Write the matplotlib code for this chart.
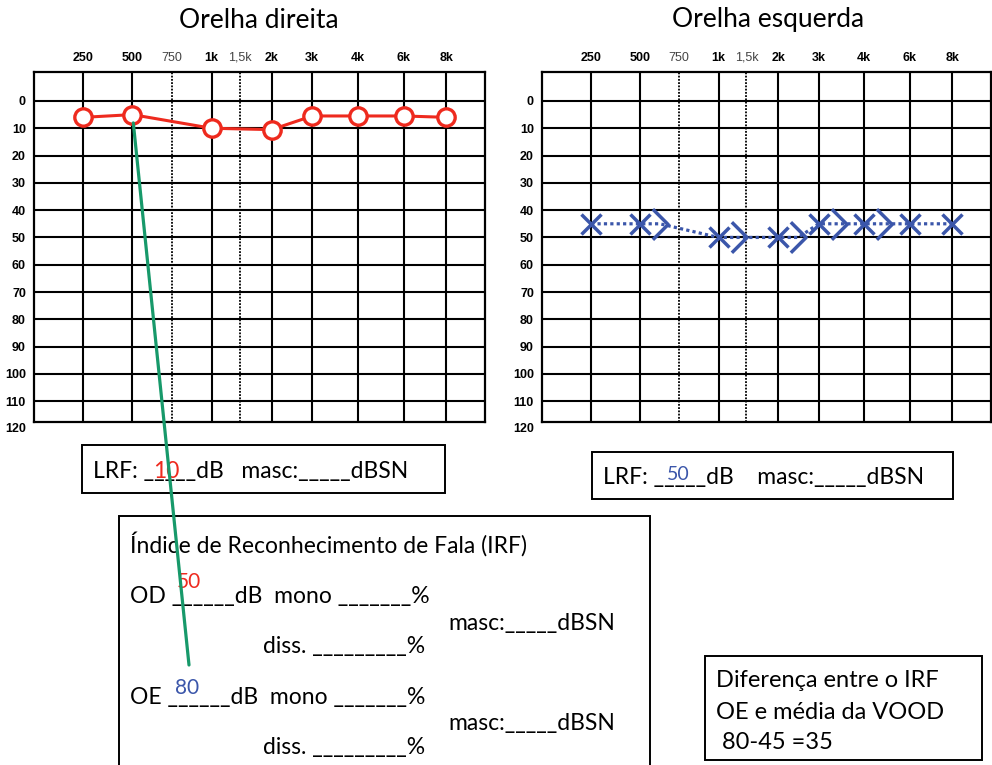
import matplotlib
matplotlib.use("Agg")
import matplotlib.pyplot as plt
import matplotlib.transforms as mtransforms
from matplotlib.path import Path
from matplotlib.patches import Rectangle, ConnectionPatch

W, H = 992, 765

# audiogram frequency grid (labels and their column positions on the form)
grid_freqs = ['250', '500', '750', '1k', '1,5k', '2k', '3k', '4k', '6k', '8k']
grid_pos = [49, 98, 137, 177, 205, 237, 277.5, 323, 369, 411.5]
half_octave = ['750', '1,5k']
db_ticks = [0, 10, 20, 30, 40, 50, 60, 70, 80, 90, 100, 110, 120]

# right ear (OD), air conduction thresholds in dB
od_freqs = ['250', '500', '1k', '2k', '3k', '4k', '6k', '8k']
od_air = [6, 5, 10, 10.5, 5.5, 5.5, 5.5, 6]

# left ear (OE), air and bone conduction thresholds in dB
oe_freqs = ['250', '500', '1k', '2k', '3k', '4k', '6k', '8k']
oe_air = [45, 45, 50, 50, 45, 45, 45, 45]
oe_bone_freqs = ['500', '1k', '2k', '3k', '4k']
oe_bone = [45, 50, 50, 45, 45]

# speech results
lrf_od = 10
lrf_oe = 50
irf_od = 50
irf_oe = 80
vood_mean = 45

RED = '#ee2a1e'
BLUE = '#3b56aa'
GREEN = '#17996a'
TXT_FONT = ['Lato', 'DejaVu Sans']
TICK_FONT = ['Liberation Sans', 'DejaVu Sans']
BOX_SIZE = 16.5

pos_of = dict(zip(grid_freqs, grid_pos))

fig = plt.figure(figsize=(W / 100, H / 100), dpi=100)


def px_text(x, y, s, size=BOX_SIZE, color='black', **kw):
    """Place text using pixel coordinates measured from the top-left corner."""
    return fig.text(x / W, 1 - y / H, s, fontsize=size, color=color,
                    family=TXT_FONT, va='baseline', **kw)


def px_box(x0, y0, x1, y1, lw=1.4):
    fig.add_artist(Rectangle((x0 / W, 1 - y1 / H), (x1 - x0) / W, (y1 - y0) / H,
                             transform=fig.transFigure, fill=False,
                             edgecolor='black', linewidth=lw))


def audiogram(left_px, right_px, title, title_x):
    top_px, bottom_px = 72.3, 421.7
    ax = fig.add_axes([left_px / W, 1 - bottom_px / H,
                       (right_px - left_px) / W, (bottom_px - top_px) / H])
    ax.set_xlim(0, 450)
    ax.set_ylim(117.5, -10.5)
    for f, p in zip(grid_freqs, grid_pos):
        if f in half_octave:
            ax.axvline(p, color='black', lw=1.3, ls=(0, (1, 0.8)), zorder=1)
        else:
            ax.axvline(p, color='black', lw=1.5, zorder=1)
    for d in db_ticks[:-1]:
        ax.axhline(d, color='black', lw=1.5, zorder=1)
    for sp in ax.spines.values():
        sp.set_linewidth(1.6)

    ax.xaxis.tick_top()
    ax.set_xticks(grid_pos)
    ax.set_xticklabels(grid_freqs)
    for lab, f in zip(ax.get_xticklabels(), grid_freqs):
        lab.set_family(TICK_FONT)
        lab.set_fontsize(9)
        if f in half_octave:
            lab.set_color('#444444')
        else:
            lab.set_fontweight('bold')
    ax.tick_params(axis='x', length=0, pad=6)

    ax.set_yticks(db_ticks[:-1])
    ax.set_yticklabels([str(d) for d in db_ticks[:-1]],
                       family=TICK_FONT, fontsize=9, fontweight='bold')
    ax.tick_params(axis='y', length=0, pad=6)
    # last level sits just below the bottom edge of the form
    trans = mtransforms.offset_copy(
        mtransforms.blended_transform_factory(ax.transAxes, ax.transData),
        fig=fig, x=-6, y=0, units='points')
    ax.text(0, db_ticks[-1], str(db_ticks[-1]), transform=trans, ha='right',
            va='center', family=TICK_FONT, fontsize=9, fontweight='bold',
            clip_on=False)

    fig.text(title_x / W, 1 - 20 / H, title, ha='center', va='center',
             fontsize=19, family=TXT_FONT)
    return ax


axL = audiogram(34.3, 485.0, 'Orelha direita', 259)
axR = audiogram(542.3, 990.5, 'Orelha esquerda', 768)

# right ear: circles joined by a solid line
axL.plot([pos_of[f] for f in od_freqs], od_air, color=RED, lw=2.2,
         marker='o', ms=12.5, mew=2.4, mfc='white', mec=RED, zorder=3)

# left ear: crosses for air, ">" for bone, joined by one dotted line
bone_offset = 20
chevron = Path([(-0.5, 1.0), (0.5, 0.0), (-0.5, -1.0)],
               [Path.MOVETO, Path.LINETO, Path.LINETO])
air_x = [pos_of[f] for f in oe_freqs]
bone_x = [pos_of[f] + bone_offset for f in oe_bone_freqs]
pts = sorted(list(zip(air_x, oe_air)) + list(zip(bone_x, oe_bone)))
axR.plot([p[0] for p in pts], [p[1] for p in pts], color=BLUE, lw=2.3,
         ls=(0, (1, 1)), zorder=2)
axR.plot(air_x, oe_air, ls='none', marker='x', ms=15, mew=2.5, color=BLUE,
         zorder=3)
axR.plot(bone_x, oe_bone, ls='none', marker=chevron, ms=22, mew=2.5,
         mfc='none', mec=BLUE, zorder=3)

# LRF boxes
px_box(81.7, 445, 445, 493.3)
px_text(93, 478, 'LRF: _____dB   masc:_____dBSN')
px_text(166, 478, str(lrf_od), color=RED, ha='center')

px_box(591.7, 451.7, 952.7, 499.3)
px_text(603, 484, 'LRF: _____dB    masc:_____dBSN')
px_text(678, 480, str(lrf_oe), size=14, color=BLUE, ha='center')

# speech recognition box (continues past the bottom edge)
px_box(118.5, 516.4, 650, 800)
px_text(130, 553, 'Índice de Reconhecimento de Fala (IRF)')
px_text(130, 603, 'OD ______dB  mono _______%')
px_text(448, 630, 'masc:_____dBSN')
px_text(263, 653, 'diss. _________%')
px_text(130, 704, 'OE ______dB  mono _______%')
px_text(448, 730, 'masc:_____dBSN')
px_text(263, 754, 'diss. _________%')
px_text(189, 588, str(irf_od), size=15, color=RED, ha='center')
px_text(187, 694, str(irf_oe), size=15, color=BLUE, ha='center')

# difference box
px_box(705, 656, 981.7, 760)
px_text(716.5, 687, 'Diferença entre o IRF', size=17)
px_text(716.5, 719, 'OE e média da VOOD', size=17)
px_text(716.5, 749, f' {irf_oe}-{vood_mean} ={irf_oe - vood_mean}', size=17)

# link from the 500 Hz threshold of the right ear to the OE speech level
link = ConnectionPatch(xyA=(pos_of['500'], od_air[od_freqs.index('500')]),
                       coordsA=axL.transData,
                       xyB=(189 / W, 1 - 665 / H), coordsB=fig.transFigure,
                       color=GREEN, lw=2.3, shrinkA=6, shrinkB=0, zorder=10)
fig.add_artist(link)

fig.savefig('out.png', dpi=100)
